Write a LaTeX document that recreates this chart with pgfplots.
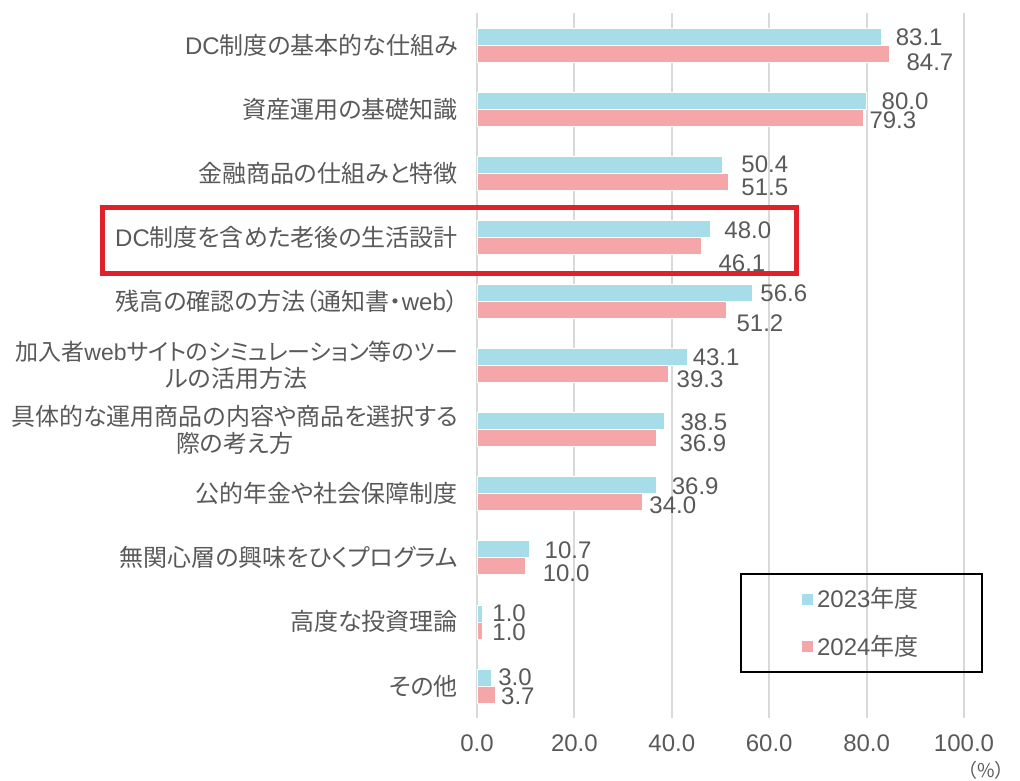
\documentclass[border=0pt]{standalone}
\usepackage{pgfplots}
\pgfplotsset{compat=1.18}
\usepackage{fontspec}
\setmainfont{Liberation Sans}
\newfontfamily\jp[RawFeature=+palt]{Noto Sans CJK JP}
\newfontfamily\jpf{Noto Sans CJK JP}
\newcommand\la[1]{{\rmfamily #1}}
\definecolor{c23}{HTML}{A6DDE9}
\definecolor{c24}{HTML}{F4A6A8}
\definecolor{txt}{HTML}{595959}
\definecolor{gridc}{HTML}{D9D9D9}
\definecolor{hl}{HTML}{E0202A}

\begin{document}
\begin{tikzpicture}
\useasboundingbox (0,0) rectangle (510pt,390pt);
\begin{axis}[at={(238.5pt,31pt)}, anchor=south west, scale only axis,
  width=243.5pt, height=352.5pt,
  xmin=0, xmax=100, ymin=-0.5, ymax=10.5, y dir=reverse,
  axis line style={draw=none}, major tick length=0pt,
  xmajorgrids, grid style={gridc, line width=1pt},
  xtick={0,20,...,100}, xticklabels={0.0,20.0,40.0,60.0,80.0,100.0},
  xticklabel style={text=txt, font=\fontsize{12}{14}\selectfont, yshift=-5pt},
  ytick={0,...,10},
  yticklabels={\la{DC}制度の基本的な仕組み, 資産運用の基礎知識, 金融商品の仕組みと特徴,
    \la{DC}制度を含めた老後の生活設計, 残高の確認の方法（通知書・\la{web}）,
    {\fontsize{11.5}{13.5}\selectfont 加入者\la{web}サイトのシミュレーション等のツー}\\ルの活用方法,
    具体的な運用商品の内容や商品を選択する\\際の考え方,
    公的年金や社会保障制度, 無関心層の興味をひくプログラム, 高度な投資理論, その他},
  yticklabel style={text=txt, font=\jp\fontsize{12}{13.5}\selectfont, align=center, xshift=-6pt},
  clip=false,
  legend image code/.code={\fill[#1] (0pt,-3pt) rectangle (6pt,3pt);},
  legend style={at={(axis description cs:0.7895,0.1348)}, anchor=center, draw=none, fill=none,
    row sep=8pt, font=\fontsize{12}{14}\selectfont, text=txt},
]
\addplot[xbar, bar width=8.5pt, bar shift=4.25pt, fill=c23, draw=white, line width=0.3pt] coordinates {
  (83.1,0) (80.0,1) (50.4,2) (48.0,3) (56.6,4) (43.1,5) (38.5,6) (36.9,7) (10.7,8) (1.0,9) (3.0,10)};
\addlegendentry{2023{\jp 年度}}
\addplot[xbar, bar width=8.5pt, bar shift=-4.25pt, fill=c24, draw=white, line width=0.3pt] coordinates {
  (84.7,0) (79.3,1) (51.5,2) (46.1,3) (51.2,4) (39.3,5) (36.9,6) (34.0,7) (10.0,8) (1.0,9) (3.7,10)};
\addlegendentry{2024{\jp 年度}}
\addplot[forget plot, only marks, mark=*, mark size=0pt, mark options={draw=none, fill=none},
  nodes near coords, point meta=explicit symbolic,
  every node near coord/.append style={anchor=center, text=txt, font=\fontsize{12}{14}\selectfont}]
  table[meta=l] {
x y l
90.8 -0.125 83.1
93.0 0.265 84.7
87.9 0.874 80.0
85.4 1.17 79.3
59.1 1.856 50.4
59.1 2.215 51.5
55.6 2.886 48.0
54.4 3.40 46.1
63.0 3.869 56.6
58.1 4.337 51.2
49.1 4.867 43.1
45.8 5.21 39.3
46.6 5.88 38.5
46.4 6.22 36.9
44.8 6.88 36.9
40.2 7.18 34.0
18.7 7.88 10.7
18.3 8.24 10.0
6.6 8.86 1.0
6.6 9.16 1.0
7.8 9.86 3.0
8.4 10.16 3.7
};
\draw[hl, line width=2.5pt] (axis cs:-76.8,2.527) rectangle (axis cs:65.7,3.557);
\draw[black, line width=1pt] (axis cs:54.2,8.25) rectangle (axis cs:103.7,9.78);
\node[text=txt, font=\jpf\fontsize{9.5}{12}\selectfont] at (axis cs:104.5,11.31) {（\%）};
\end{axis}
\end{tikzpicture}
\end{document}
